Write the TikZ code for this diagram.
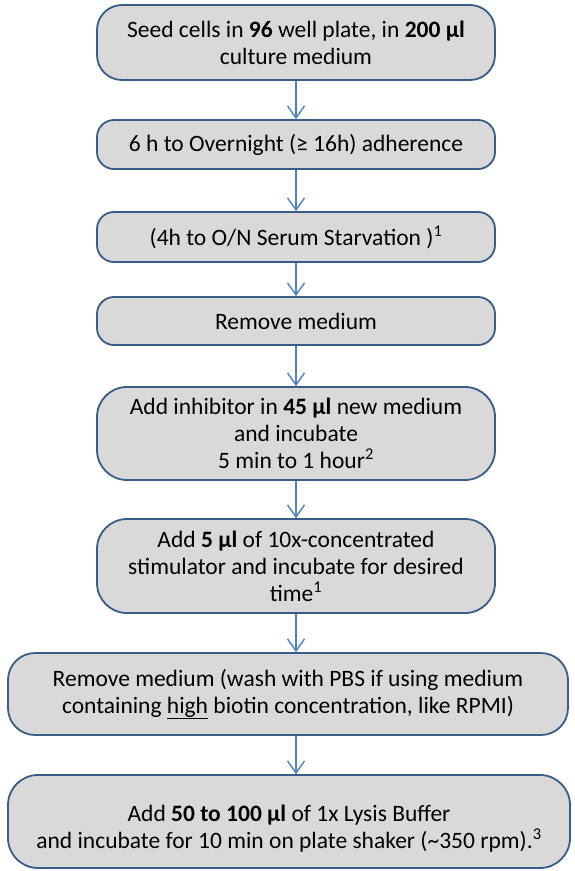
\documentclass[tikz,border=0pt]{standalone}
\usepackage{fontspec}
\setmainfont{Carlito}
\usetikzlibrary{arrows.meta}
\definecolor{boxfill}{HTML}{D9D9D9}
\definecolor{boxline}{HTML}{385D8A}
\definecolor{flowblue}{HTML}{4F81BD}
\begin{document}
\begin{tikzpicture}[x=1pt,y=-1pt,
  stage/.style={draw=boxline,fill=boxfill,line width=1.8pt,align=center,inner sep=0pt,
    font=\fontsize{23.5}{27}\selectfont},
  flow/.style={draw=flowblue,line width=1.4pt,-{Straight Barb[length=12pt,width=17pt,line width=1.4pt]}}]
\useasboundingbox (0,0) rectangle (574,871);

\node[stage,minimum width=398pt,minimum height=75pt,rounded corners=25pt] (seed) at (296,42.5)
  {Seed cells in \textbf{96} well plate, in \textbf{200 µl}\\culture medium};
\node[stage,minimum width=398pt,minimum height=49pt,rounded corners=17pt] (adhere) at (296,144.5)
  {6 h to Overnight (≥ 16h) adherence};
\node[stage,minimum width=398pt,minimum height=50pt,rounded corners=17pt] (starve) at (296,237)
  {(4h to O/N Serum Starvation )\textsuperscript{1}};
\node[stage,minimum width=398pt,minimum height=48pt,rounded corners=17pt] (remove) at (296,321)
  {Remove medium};
\node[stage,minimum width=398pt,minimum height=93pt,rounded corners=30pt] (inhib) at (296,433.5)
  {Add inhibitor in \textbf{45 µl} new medium\\and incubate\\5 min to 1 hour\textsuperscript{2}};
\node[stage,minimum width=398pt,minimum height=94pt,rounded corners=30pt] (stim) at (296,566)
  {Add \textbf{5 µl} of 10x-concentrated\\stimulator and incubate for desired\\time\textsuperscript{1}};
\node[stage,minimum width=560pt,minimum height=82pt,rounded corners=27pt] (wash) at (288,694)
  {Remove medium (wash with PBS if using medium\\containing \underline{high} biotin concentration, like RPMI)};
\node[stage,minimum width=562pt,minimum height=93pt,rounded corners=30pt] (lysis) at (289,821.5)
  {\rule{0pt}{30pt}Add \textbf{50 to 100 µl} of 1x Lysis Buffer\\and incubate for 10 min on plate shaker (\textasciitilde 350 rpm).\textsuperscript{3}};

% arrows
\draw[flow] (seed) -- (adhere);
\draw[flow] (adhere) -- (starve);
\draw[flow] (starve) -- (remove);
\draw[flow] (remove) -- (inhib);
\draw[flow] (inhib) -- (stim);
\draw[flow] (stim.south) -- (stim.south |- wash.north);
\draw[flow] (stim.south |- wash.south) -- (stim.south |- lysis.north);
\end{tikzpicture}
\end{document}
